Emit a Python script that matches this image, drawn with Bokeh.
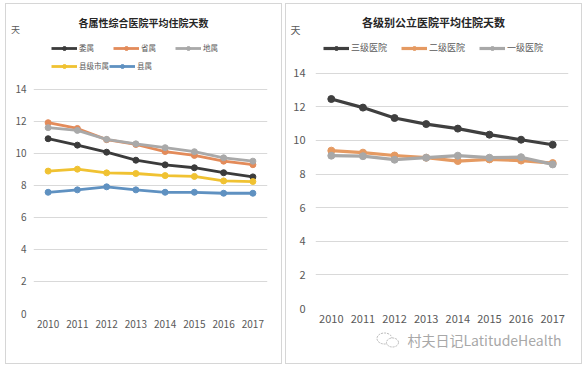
from bokeh.plotting import figure
from bokeh.models import Range1d, Label, Legend, LegendItem, FixedTicker, Spacer
from bokeh.layouts import row, column
from bokeh.embed import file_html
from bokeh.resources import INLINE

years = [2010, 2011, 2012, 2013, 2014, 2015, 2016, 2017]
year_labels = [str(y) for y in years]
yticks = [0, 2, 4, 6, 8, 10, 12, 14]

# left chart: by affiliation
left_title = "各属性综合医院平均住院天数"
left_names = ["委属", "省属", "地属", "县级市属", "县属"]
wei = [10.9, 10.5, 10.06, 9.56, 9.27, 9.09, 8.78, 8.52]
sheng = [11.9, 11.54, 10.84, 10.54, 10.1, 9.86, 9.5, 9.28]
di = [11.59, 11.42, 10.86, 10.58, 10.34, 10.09, 9.71, 9.5]
xianjishi = [8.88, 9.0, 8.77, 8.73, 8.6, 8.55, 8.27, 8.23]
xian = [7.56, 7.71, 7.9, 7.71, 7.56, 7.56, 7.5, 7.5]
left_colors = ["#3b3b3b", "#e38b5a", "#a9a9a9", "#f0c232", "#5f91c1"]

# right chart: by level
right_title = "各级别公立医院平均住院天数"
right_names = ["三级医院", "二级医院", "一级医院"]
san = [12.46, 11.95, 11.33, 10.97, 10.7, 10.34, 10.04, 9.74]
er = [9.39, 9.27, 9.1, 8.97, 8.77, 8.87, 8.8, 8.65]
yi = [9.09, 9.06, 8.85, 8.97, 9.09, 8.97, 9.0, 8.57]
right_colors = ["#3f3f3f", "#e59a62", "#a8a8a8"]

unit = "天"
watermark = "村夫日记LatitudeHealth"
FONT = "Noto Sans CJK SC"
TXT = "#595959"
BORDER = "1px solid #d6d6d6"


def border_style(sides):
    st = {"box-sizing": "border-box"}
    for s in ("top", "bottom", "left", "right"):
        st["border-" + s] = BORDER if s in sides else "none"
    return st


def blank_fig(w, h, sides):
    p = figure(width=w, height=h, output_backend="svg", toolbar_location=None,
               x_axis_type=None, y_axis_type=None,
               x_range=Range1d(0, w), y_range=Range1d(0, h),
               min_border=0, frame_align=False)
    p.outline_line_color = None
    p.grid.visible = False
    p.styles = border_style(sides)
    return p


def body_fig(w, h, bl, br, bb, ytop, lab_size, xstand, ystand, sides):
    p = figure(width=w, height=h, output_backend="svg", toolbar_location=None,
               x_range=Range1d(2009.5, 2017.5), y_range=Range1d(0, ytop),
               min_border_left=bl, min_border_right=br,
               min_border_top=0, min_border_bottom=bb, frame_align=False)
    p.outline_line_color = None
    p.styles = border_style(sides)
    p.xgrid.visible = False
    p.ygrid.ticker = FixedTicker(ticks=yticks)
    p.ygrid.grid_line_color = "#d9d9d9"
    p.ygrid.grid_line_width = 1
    p.xaxis.ticker = FixedTicker(ticks=years)
    p.xaxis.major_label_overrides = {y: s for y, s in zip(years, year_labels)}
    p.yaxis.ticker = FixedTicker(ticks=yticks)
    for ax, st in ((p.xaxis, xstand), (p.yaxis, ystand)):
        ax.axis_line_color = None
        ax.major_tick_line_color = None
        ax.minor_tick_line_color = None
        ax.major_tick_out = 0
        ax.major_tick_in = 0
        ax.minor_tick_out = 0
        ax.minor_tick_in = 0
        ax.axis_label_standoff = 0
        ax.major_label_text_font = FONT
        ax.major_label_text_font_size = lab_size
        ax.major_label_text_color = TXT
        ax.major_label_standoff = st
    return p


def add_series(p, ys, color, lw, ms):
    r1 = p.line(years, ys, line_color=color, line_width=lw)
    r2 = p.scatter(years, ys, marker="circle", size=ms, fill_color=color, line_color=color)
    return [r1, r2]


def add_legend(p, names, rends, x, y, spacing, fsize):
    items = [LegendItem(label=n, renderers=r) for n, r in zip(names, rends)]
    lg = Legend(items=items, orientation="horizontal", location=(x, y),
                spacing=spacing, padding=0, margin=0, glyph_width=26, glyph_height=10,
                label_standoff=2, label_height=10, label_text_font=FONT,
                label_text_font_size=fsize, label_text_color=TXT,
                border_line_alpha=0, background_fill_alpha=0)
    p.add_layout(lg, "center")


def header(p, title, tx, ty, tsize, ux, uy, usize):
    p.add_layout(Label(x=tx, y=ty, x_units="screen", y_units="screen", text=title,
                       text_font=FONT, text_font_size=tsize, text_font_style="bold",
                       text_color="#262626", text_align="center", text_baseline="middle"))
    p.add_layout(Label(x=ux, y=uy, x_units="screen", y_units="screen", text=unit,
                       text_font=FONT, text_font_size=usize, text_color=TXT,
                       text_align="center", text_baseline="middle"))


# ---- left chart ----
hl = blank_fig(277, 35, ("top", "left", "right"))
header(hl, left_title, 137, 17, "10px", 9, 10, "9px")
bl = body_fig(277, 326, 27, 16, 51, 17.15, "10px", 6, 7, ("bottom", "left", "right"))
lrends = [add_series(bl, ys, c, 2.8, 6) for ys, c in
          zip([wei, sheng, di, xianjishi, xian], left_colors)]
add_legend(bl, left_names[:3], lrends[:3], 18, 260, 14, "7.5px")
add_legend(bl, left_names[3:], lrends[3:], 18, 242, 0, "7.5px")
left_col = column(hl, bl, spacing=0)

# ---- right chart ----
hr = blank_fig(297, 35, ("top", "left", "right"))
header(hr, right_title, 147, 18, "11px", 9, 10, "10px")
br = body_fig(297, 292, 29, 15, 22, 16.06, "11px", 6, 10, ("left", "right"))
rrends = [add_series(br, ys, c, 3.2, 7) for ys, c in
          zip([san, er, yi], right_colors)]
add_legend(br, right_names, rrends, 8, 254, 14, "9px")
fr = blank_fig(297, 34, ("bottom", "left", "right"))
# small chat-bubble logo drawn beside the watermark
fr.ellipse(x=[98, 106], y=[26, 22], width=[15, 12], height=[11, 9],
           fill_color="white", line_color="#b8b8b8", line_width=1, line_dash="2 1")
fr.add_layout(Label(x=121, y=25, x_units="screen", y_units="screen", text=watermark,
                    text_font=FONT, text_font_size="14px", text_color="#a8a8a8",
                    text_align="left", text_baseline="middle"))
right_col = column(hr, br, fr, spacing=0)

layout = column(Spacer(height=3),
                row(Spacer(width=5), left_col, Spacer(width=3), right_col, spacing=0),
                spacing=0)
open("out.html", "w").write(file_html(layout, INLINE))
